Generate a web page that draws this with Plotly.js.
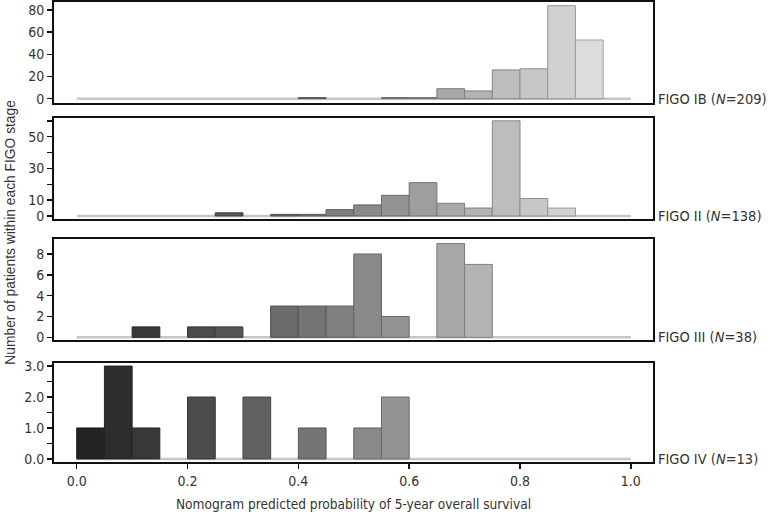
<!DOCTYPE html>
<html>
<head>
<meta charset="utf-8">
<script src="https://cdn.plot.ly/plotly-3.0.1.min.js"></script>
<style>
  html, body { margin: 0; padding: 0; background: #fff; }
  #chart { width: 770px; height: 512px; }
</style>
</head>
<body>
<div id="chart"></div>
<script>
// bin centres of the 0.05-wide histogram bins
var binCenters = [0.025, 0.075, 0.125, 0.175, 0.225, 0.275, 0.325, 0.375, 0.425, 0.475,
                  0.525, 0.575, 0.625, 0.675, 0.725, 0.775, 0.825, 0.875, 0.925, 0.975];
var binWidth = 0.05;

var stageLabels = ["FIGO IB (<i>N</i>=209)", "FIGO II (<i>N</i>=138)",
                   "FIGO III (<i>N</i>=38)", "FIGO IV (<i>N</i>=13)"];

var countsIB  = [0, 0, 0, 0, 0, 0, 0, 0, 1, 0, 0, 1, 1, 9, 7, 26, 27, 84, 53, 0];
var countsII  = [0, 0, 0, 0, 0, 2, 0, 1, 1, 4, 7, 13, 21, 8, 5, 60, 11, 5, 0, 0];
var countsIII = [0, 0, 1, 0, 1, 1, 0, 3, 3, 3, 8, 2, 0, 9, 7, 0, 0, 0, 0, 0];
var countsIV  = [1, 3, 1, 0, 2, 0, 2, 0, 1, 0, 1, 2, 0, 0, 0, 0, 0, 0, 0, 0];

var xTickVals = [0, 0.2, 0.4, 0.6, 0.8, 1.0];
var xTickText = ["0.0", "0.2", "0.4", "0.6", "0.8", "1.0"];

var yTicks = [
  { vals: [0, 20, 40, 60, 80], text: ["0", "20", "40", "60", "80"] },
  { vals: [0, 10, 20, 30, 40, 50, 60], text: ["0", "10", "", "30", "", "50", ""] },
  { vals: [0, 2, 4, 6, 8], text: ["0", "2", "4", "6", "8"] },
  { vals: [0, 0.5, 1, 1.5, 2, 2.5, 3], text: ["0.0", "", "1.0", "", "2.0", "", "3.0"] }
];

var allCounts = [countsIB, countsII, countsIII, countsIV];

var narrow = "Liberation Sans Narrow, Arial Narrow, DejaVu Sans Condensed, sans-serif";
var regular = "Liberation Sans, Arial, sans-serif";

// grey level gets lighter with the predicted probability
function grey(c, k) {
  var g = Math.round((30 + 205 * c) * k);
  return "rgb(" + g + "," + g + "," + g + ")";
}
var fills = binCenters.map(function (c) { return grey(c, 1); });
var edges = binCenters.map(function (c) { return grey(c, 0.72); });

var domains = [[0.7804, 1.0], [0.5276, 0.7472], [0.2652, 0.4841], [0, 0.2159]];
var yRanges = [[-3.9, 87.3], [-2.1, 61.6], [-0.26, 9.41], [-0.1, 3.11]];

var data = [];
var layout = {
  width: 770,
  height: 512,
  margin: { l: 54, r: 117, t: 2, b: 50 },
  paper_bgcolor: "#fff",
  plot_bgcolor: "#fff",
  showlegend: false,
  bargap: 0,
  font: { family: narrow, size: 14, color: "#333" },
  shapes: [],
  annotations: [{
    xref: "paper", yref: "paper", x: -0.074, y: 0.5,
    xanchor: "center", yanchor: "middle",
    text: "Number of patients within each FIGO stage",
    textangle: -90, showarrow: false,
    font: { family: regular, size: 13.8, color: "#333" }
  }]
};

allCounts.forEach(function (counts, i) {
  var n = i + 1;
  var xa = n === 1 ? "x" : "x" + n;
  var ya = n === 1 ? "y" : "y" + n;
  var last = i === 3;

  data.push({
    type: "bar",
    x: binCenters,
    y: counts.map(function (v) { return v === 0 ? null : v; }),
    width: binWidth,
    xaxis: xa,
    yaxis: ya,
    marker: { color: fills, line: { color: edges, width: 1 } },
    hoverinfo: "x+y"
  });

  layout.shapes.push({
    type: "line", layer: "below",
    xref: xa, yref: ya,
    x0: binCenters[0] - binWidth / 2, x1: binCenters[binCenters.length - 1] + binWidth / 2,
    y0: 0, y1: 0,
    line: { color: "#c6c6c6", width: 2.5 }
  });

  layout["xaxis" + (n === 1 ? "" : n)] = {
    anchor: ya,
    domain: [0, 1],
    range: [-0.041, 1.040],
    showline: true, mirror: true, linecolor: "#111", linewidth: 2,
    showgrid: false, zeroline: false,
    ticks: last ? "outside" : "", ticklen: 5, tickwidth: 1.5, tickcolor: "#111",
    tickvals: xTickVals, ticktext: xTickText,
    showticklabels: last,
    tickfont: { family: narrow, size: 14, color: "#333" },
    title: last ? {
      text: "Nomogram predicted probability of 5-year overall survival",
      font: { family: narrow, size: 13.6, color: "#333" },
      standoff: 12
    } : { text: "" }
  };

  layout["yaxis" + (n === 1 ? "" : n)] = {
    anchor: xa,
    domain: domains[i],
    range: yRanges[i],
    showline: true, mirror: true, linecolor: "#111", linewidth: 2,
    showgrid: false, zeroline: false,
    ticks: "outside", ticklen: 5, tickwidth: 1.5, tickcolor: "#111",
    tickvals: yTicks[i].vals, ticktext: yTicks[i].text,
    tickfont: { family: narrow, size: 14, color: "#333" }
  };

  layout.annotations.push({
    xref: "paper", yref: ya, x: 1.005, y: 0,
    xanchor: "left", yanchor: "middle",
    text: stageLabels[i], showarrow: false,
    font: { family: narrow, size: 14.5, color: "#333" }
  });
});

Plotly.newPlot("chart", data, layout, { staticPlot: true });
</script>
</body>
</html>
